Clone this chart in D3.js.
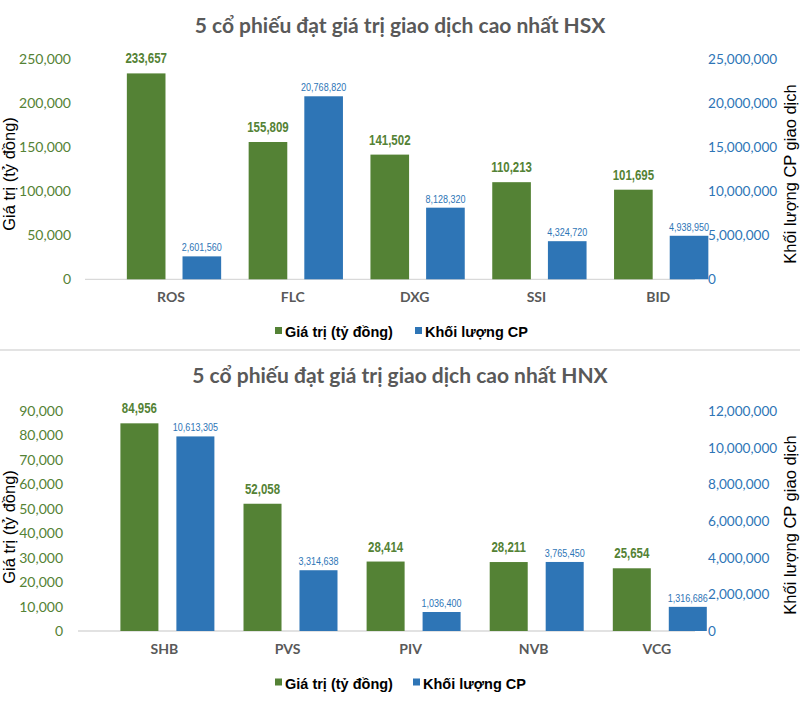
<!DOCTYPE html>
<html>
<head>
<meta charset="utf-8">
<script src="https://cdn.jsdelivr.net/npm/d3@7"></script>
<style>
  html, body { margin: 0; padding: 0; background: #ffffff; }
  svg { display: block; }
</style>
</head>
<body>
<svg id="chart" width="800" height="722"></svg>
<script>
// ---------------- DATA ----------------
const seriesNames = ["Giá trị (tỷ đồng)", "Khối lượng CP"];

const hsxTitle = "5 cổ phiếu đạt giá trị giao dịch cao nhất HSX";
const hsxCategories = ["ROS", "FLC", "DXG", "SSI", "BID"];
const hsxValue = [233657, 155809, 141502, 110213, 101695];
const hsxVolume = [2601560, 20768820, 8128320, 4324720, 4938950];
const hsxLeftTicks = [0, 50000, 100000, 150000, 200000, 250000];
const hsxRightTicks = [0, 5000000, 10000000, 15000000, 20000000, 25000000];

const hnxTitle = "5 cổ phiếu đạt giá trị giao dịch cao nhất HNX";
const hnxCategories = ["SHB", "PVS", "PIV", "NVB", "VCG"];
const hnxValue = [84956, 52058, 28414, 28211, 25654];
const hnxVolume = [10613305, 3314638, 1036400, 3765450, 1316686];
const hnxLeftTicks = [0, 10000, 20000, 30000, 40000, 50000, 60000, 70000, 80000, 90000];
const hnxRightTicks = [0, 2000000, 4000000, 6000000, 8000000, 10000000, 12000000];

const leftAxisTitle = "Giá trị (tỷ đồng)";
const rightAxisTitle = "Khối lượng CP giao dịch";

// ---------------- STYLE ----------------
const GREEN = "#548235";
const BLUE = "#2E75B6";
const GRAY = "#595959";
const FONT_UI = "Lato, 'Open Sans', sans-serif";
const FONT_ARIAL = "'Liberation Sans', Arial, sans-serif";
const NARROW = 0.82; // horizontal squeeze to mimic Arial Narrow

const svg = d3.select("#chart");

// separator between panels
svg.append("rect").attr("x", 0).attr("y", 349).attr("width", 800).attr("height", 2).attr("fill", "#e3e3e3");

const fmt = d3.format(",");

function drawPanel(cfg) {
  const g = svg.append("g");
  const data = cfg.categories.map((c, i) => ({ cat: c, v: cfg.values[i], q: cfg.volumes[i] }));

  // title
  g.append("text")
    .attr("x", 400).attr("y", cfg.titleY)
    .attr("text-anchor", "middle")
    .attr("font-family", FONT_UI).attr("font-weight", "bold")
    .attr("font-size", 21).attr("fill", GRAY)
    .text(cfg.title);

  const yL = d3.scaleLinear().domain([0, d3.max(cfg.leftTicks)]).range([cfg.y0, cfg.yTop]);
  const yR = d3.scaleLinear().domain([0, d3.max(cfg.rightTicks)]).range([cfg.y0, cfg.yTop]);
  const x0 = d3.scaleBand().domain(cfg.categories).range(cfg.xRange).paddingInner(0).paddingOuter(0);
  const x1 = d3.scaleBand().domain(["v", "q"]).range([0, x0.bandwidth()])
    .paddingInner(cfg.pInner).paddingOuter(cfg.pOuter);

  // baseline
  g.append("line")
    .attr("x1", cfg.lineX[0]).attr("x2", cfg.lineX[1])
    .attr("y1", cfg.y0).attr("y2", cfg.y0)
    .attr("stroke", "#d9d9d9").attr("stroke-width", 1.3);

  // left axis
  const axL = g.append("g").attr("transform", `translate(${cfg.leftAxisX},0)`)
    .call(d3.axisLeft(yL).tickValues(cfg.leftTicks).tickFormat(fmt).tickSize(0).tickPadding(0));
  axL.select(".domain").remove();
  axL.selectAll("text").attr("font-family", FONT_UI).attr("font-size", 14).attr("fill", GREEN);

  // right axis
  const axR = g.append("g").attr("transform", `translate(708,0)`)
    .call(d3.axisRight(yR).tickValues(cfg.rightTicks).tickFormat(fmt).tickSize(0).tickPadding(0));
  axR.select(".domain").remove();
  axR.selectAll("text").attr("font-family", FONT_UI).attr("font-size", 13.6).attr("fill", BLUE);

  // category axis
  const axB = g.append("g").attr("transform", `translate(-3,${cfg.y0})`)
    .call(d3.axisBottom(x0).tickSize(0).tickPadding(13));
  axB.select(".domain").remove();
  axB.selectAll("text").attr("font-family", FONT_UI).attr("font-weight", "bold")
    .attr("font-size", 14).attr("fill", GRAY);

  // bars
  const grp = g.selectAll("g.grp").data(data).join("g").attr("class", "grp")
    .attr("transform", d => `translate(${x0(d.cat)},0)`);
  grp.append("rect")
    .attr("x", x1("v")).attr("width", x1.bandwidth())
    .attr("y", d => yL(d.v)).attr("height", d => yL(0) - yL(d.v))
    .attr("fill", GREEN);
  grp.append("rect")
    .attr("x", x1("q")).attr("width", x1.bandwidth())
    .attr("y", d => yR(d.q)).attr("height", d => yR(0) - yR(d.q))
    .attr("fill", BLUE);

  // value labels (squeezed horizontally)
  grp.append("text")
    .attr("transform", d => `translate(${x1("v") + x1.bandwidth() / 2},${yL(d.v) - 10}) scale(${NARROW},1)`)
    .attr("text-anchor", "middle")
    .attr("font-family", FONT_ARIAL).attr("font-weight", "bold").attr("font-size", 14)
    .attr("fill", GREEN).text(d => fmt(d.v));
  grp.append("text")
    .attr("transform", d => `translate(${x1("q") + x1.bandwidth() / 2},${yR(d.q) - 5}) scale(${NARROW},1)`)
    .attr("text-anchor", "middle")
    .attr("font-family", FONT_ARIAL).attr("font-size", 11)
    .attr("fill", BLUE).text(d => fmt(d.q));

  // axis titles
  g.append("text")
    .attr("transform", `translate(15,${cfg.titleMidY[0]}) rotate(-90)`)
    .attr("text-anchor", "middle")
    .attr("font-family", FONT_ARIAL).attr("font-size", 16.5).attr("fill", "#000")
    .text(leftAxisTitle);
  g.append("text")
    .attr("transform", `translate(796,${cfg.titleMidY[1]}) rotate(-90)`)
    .attr("text-anchor", "middle")
    .attr("font-family", FONT_ARIAL).attr("font-size", 16.5).attr("fill", "#000")
    .text(rightAxisTitle);

  // legend
  const colors = [GREEN, BLUE];
  const lg = g.selectAll("g.leg").data(seriesNames).join("g").attr("class", "leg")
    .attr("transform", (d, i) => `translate(${cfg.legendX[i]},${cfg.legendY})`);
  lg.append("rect").attr("x", 0).attr("y", -4).attr("width", 7).attr("height", 7)
    .attr("fill", (d, i) => colors[i]);
  lg.append("text").attr("x", 10).attr("y", 6)
    .attr("font-family", FONT_ARIAL).attr("font-weight", "bold").attr("font-size", 14.5)
    .attr("fill", "#000").text(d => d);
}

drawPanel({
  title: hsxTitle, titleY: 33,
  categories: hsxCategories, values: hsxValue, volumes: hsxVolume,
  leftTicks: hsxLeftTicks, rightTicks: hsxRightTicks,
  y0: 279.3, yTop: 59,
  xRange: [113.1, 722.1], pInner: 0.306, pOuter: 0.247,
  lineX: [85, 695], leftAxisX: 71,
  titleMidY: [174, 174],
  legendX: [275, 415], legendY: 331
});

drawPanel({
  title: hnxTitle, titleY: 383,
  categories: hnxCategories, values: hnxValue, volumes: hnxVolume,
  leftTicks: hnxLeftTicks, rightTicks: hnxRightTicks,
  y0: 631, yTop: 411,
  xRange: [105.85, 721.35], pInner: 0.321, pOuter: 0.26,
  lineX: [78, 695], leftAxisX: 63,
  titleMidY: [527, 525],
  legendX: [275, 413], legendY: 682.5
});
</script>
</body>
</html>
